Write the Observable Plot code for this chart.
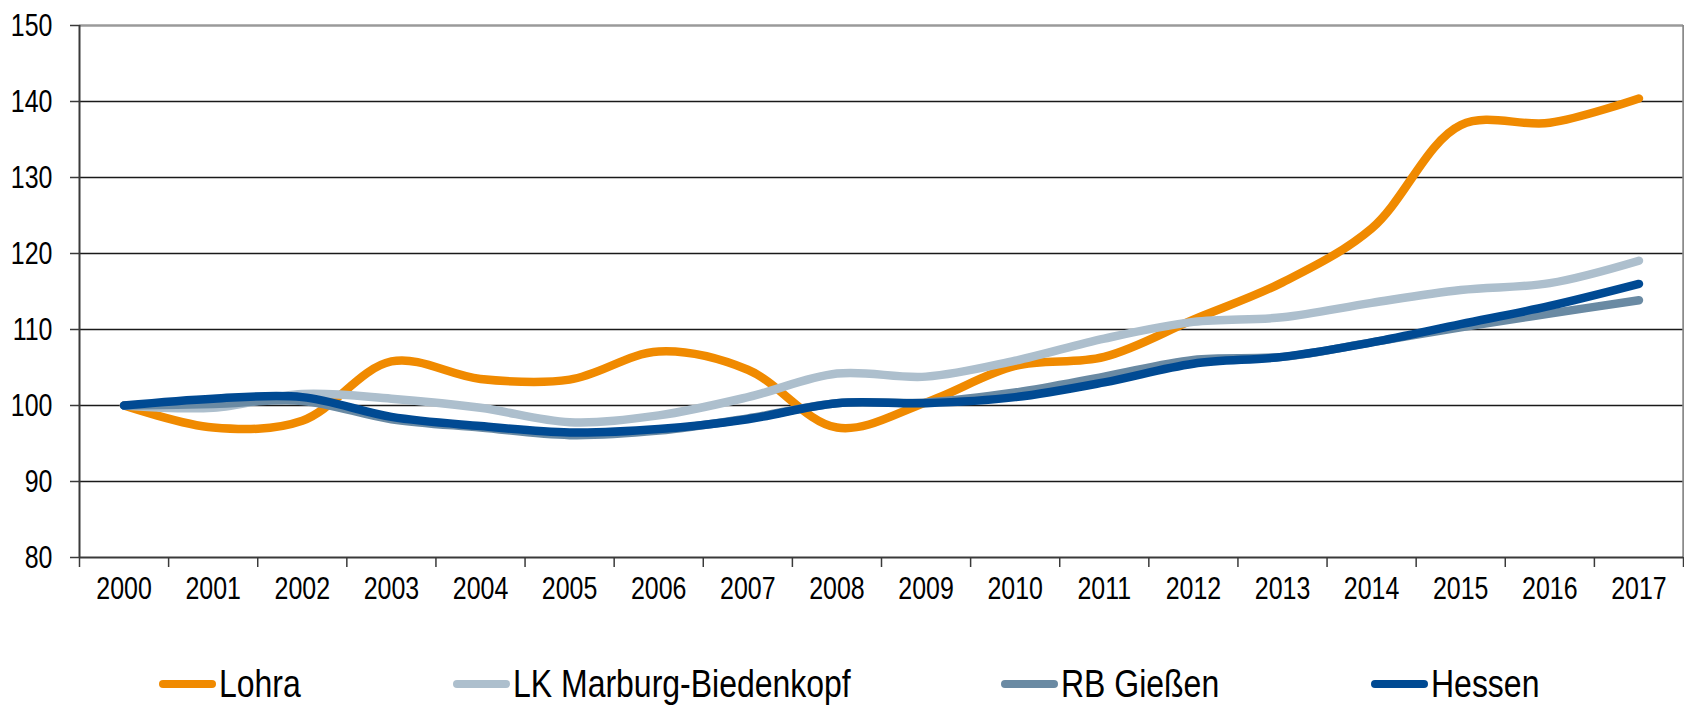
<!DOCTYPE html>
<html>
<head>
<meta charset="utf-8">
<script src="https://cdn.jsdelivr.net/npm/d3@7"></script>
<script src="https://cdn.jsdelivr.net/npm/@observablehq/plot@0.6"></script>
<style>
  body { margin: 0; background: #fff; }
  #chart svg { display: block; }
  .font { font-family: "Liberation Sans Narrow", "Arial Narrow", "Liberation Sans", Arial, sans-serif; }
  #legend { position: relative; width: 1684px; height: 90px; }
  .item { position: absolute; top: 42px; height: 44px; display: flex; align-items: center; font-size: 39px; color: #000; white-space: nowrap; }
  .sw { width: 57px; height: 8px; border-radius: 4px; margin-right: 3px; }
  .tx { display: inline-block; transform: scaleX(0.82); transform-origin: left center; }
</style>
</head>
<body>
<div id="chart" class="font"></div>
<div id="legend" class="font"></div>
<script>
const years = [2000, 2001, 2002, 2003, 2004, 2005, 2006, 2007, 2008, 2009, 2010, 2011, 2012, 2013, 2014, 2015, 2016, 2017];
const seriesNames = ["Lohra", "LK Marburg-Biedenkopf", "RB Gießen", "Hessen"];
const seriesColors = ["#F08A00", "#ADBFCD", "#6A8AA3", "#004A93"];
const lohra   = [100, 97.1, 98.0, 105.8, 103.5, 103.4, 107.1, 104.7, 97.1, 100.4, 105.2, 106.4, 111.3, 116.2, 123.3, 136.9, 137.2, 140.4];
const lkMarburg = [100, 99.7, 101.5, 100.9, 99.7, 97.8, 98.7, 101.1, 104.2, 103.8, 105.9, 108.8, 111.0, 111.6, 113.5, 115.2, 116.1, 119.05];
const rbGiessen = [100, 100.2, 100.6, 98.2, 97.1, 96.1, 96.7, 98.3, 100.3, 100.4, 101.7, 103.8, 106.0, 106.4, 108.3, 110.3, 112.1, 113.85];
const hessen  = [100, 100.9, 101.1, 98.5, 97.3, 96.45, 96.9, 98.2, 100.3, 100.3, 101.1, 103.05, 105.5, 106.4, 108.3, 110.7, 113.1, 116.0];
const yTicks = [80, 90, 100, 110, 120, 130, 140, 150];

const seriesValues = [lohra, lkMarburg, rbGiessen, hessen];
const data = seriesNames.flatMap((name, s) => years.map((year, i) => ({name, year, value: seriesValues[s][i]})));
const boundaries = years.map(y => y - 0.5).concat([years[years.length - 1] + 0.5]);
const xMin = boundaries[0], xMax = boundaries[boundaries.length - 1];

const chart = Plot.plot({
  width: 1684,
  height: 620,
  marginTop: 25,
  marginBottom: 63,
  marginLeft: 79,
  marginRight: 1,
  style: {fontSize: "32px", color: "#000", background: "#fff", fontFamily: "inherit"},
  x: {domain: [xMin, xMax], axis: null},
  y: {domain: [80, 150], axis: null},
  color: {domain: seriesNames, range: seriesColors},
  marks: [
    Plot.ruleY(yTicks.slice(1, -1), {stroke: "#1a1a1a", strokeWidth: 1.4}),
    Plot.ruleY([150], {stroke: "#9a9a9a", strokeWidth: 2.5}),
    Plot.ruleX([xMax], {stroke: "#8a8a8a", strokeWidth: 2.5}),
    Plot.ruleX([xMin], {stroke: "#3a3a3a", strokeWidth: 2}),
    Plot.ruleY([80], {stroke: "#3a3a3a", strokeWidth: 2}),
    Plot.axisY({ticks: yTicks, label: null, tickSize: 9, tickPadding: 18, stroke: "#3a3a3a", strokeWidth: 1.5, tickFormat: d => String(d), fill: "#000", fontSize: 32}),
    Plot.axisX({ticks: boundaries, label: null, tickSize: 10, tickFormat: () => "", stroke: "#3a3a3a", strokeWidth: 1.5}),
    Plot.axisX({ticks: years, label: null, tickSize: 0, tickPadding: 19, tickFormat: d => String(d), fill: "#000", fontSize: 32}),
    Plot.line(data, {x: "year", y: "value", z: "name", stroke: "name", strokeWidth: 8.5, curve: "catmull-rom", strokeLinecap: "round", strokeLinejoin: "round"})
  ]
});
document.getElementById("chart").appendChild(chart);

// narrow the tick labels (Arial Narrow look): scale horizontally about each label's anchor
d3.select(chart).selectAll("text").each(function() {
  const t = d3.select(this);
  const xs = t.attr("x");
  const x = xs != null && !isNaN(+xs) ? +xs : 0;
  const tr = t.attr("transform") || "";
  if (xs != null && !isNaN(+xs)) t.attr("x", null);
  t.attr("transform", `${tr} translate(${x},0) scale(0.78,1)`);
});

const legendLefts = [159, 453, 1001, 1371];
const legend = document.getElementById("legend");
seriesNames.forEach((name, i) => {
  const item = document.createElement("div");
  item.className = "item";
  item.style.left = legendLefts[i] + "px";
  const sw = document.createElement("span");
  sw.className = "sw";
  sw.style.background = seriesColors[i];
  const tx = document.createElement("span");
  tx.className = "tx";
  tx.textContent = name;
  item.appendChild(sw);
  item.appendChild(tx);
  legend.appendChild(item);
});
</script>
</body>
</html>
